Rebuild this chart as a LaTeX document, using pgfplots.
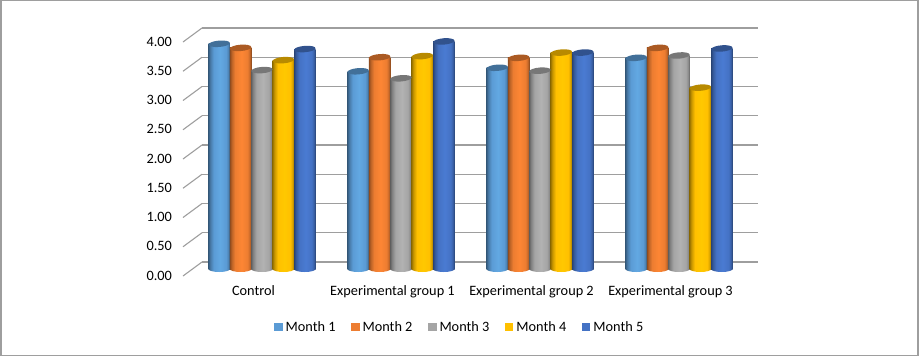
\documentclass[border=0pt]{standalone}
\usepackage{pgfplots}
\pgfplotsset{compat=1.18}
\usepackage{pgfplotstable}
\usepackage{fontspec}
\setmainfont{Carlito}
\definecolor{c1}{HTML}{5B9BD5}
\definecolor{c2}{HTML}{ED7D31}
\definecolor{c3}{HTML}{A5A5A5}
\definecolor{c4}{HTML}{FFC000}
\definecolor{c5}{HTML}{4472C4}
\definecolor{l1}{HTML}{62A8E2}
\definecolor{l2}{HTML}{FD8634}
\definecolor{l3}{HTML}{B2B2B2}
\definecolor{l4}{HTML}{FFC800}
\definecolor{l5}{HTML}{4A7BD2}
\newcommand{\mkshade}[2]{%
\pgfdeclarehorizontalshading{cyl#1}{100bp}{
color(0bp)=(#1!60!black);
color(25bp)=(#1!60!black);
color(29bp)=(#1!78!black);
color(37bp)=(#1);
color(52bp)=(#2);
color(66bp)=(#1);
color(71bp)=(#1!85!black);
color(75bp)=(#1!60!black);
color(100bp)=(#1!60!black)}%
\pgfdeclareplotmark{base#1}{\shade[draw=none,shading=cyl#1] (-10.7pt,0pt) arc[start angle=180,end angle=360,x radius=10.7pt,y radius=3pt] -- cycle;}}
\mkshade{c1}{l1}\mkshade{c2}{l2}\mkshade{c3}{l3}\mkshade{c4}{l4}\mkshade{c5}{l5}
\pgfdeclareplotmark{cyltop}{\pgfpathellipse{\pgfpointorigin}{\pgfpoint{10.7pt}{0.8pt}}{\pgfpoint{0pt}{3.2pt}}\pgfusepathqfill}
\pgfplotstableread{
x m1 m2 m3 m4 m5 z
0 3.85 3.78 3.40 3.57 3.76 0
1 3.38 3.62 3.26 3.64 3.89 0
2 3.44 3.61 3.39 3.70 3.70 0
3 3.61 3.78 3.65 3.10 3.77 0
}\datatable
\newcommand{\cyl}[3]{% series, colour, shift
  \addplot[forget plot,only marks,mark=base#2,mark options={xshift=#3pt}] table[x=x,y=z]{\datatable};
  \pgfplotsinvokeforeach{0,1,2,3}{
    \addplot[forget plot,ybar,bar width=21.4pt,bar shift=#3pt,draw=none,shade,shading=cyl#2,restrict x to domain=##1:##1] table[x=x,y=#1]{\datatable};
  }
  \addplot[forget plot,only marks,mark=cyltop,mark options={xshift=#3pt,fill=#2!72!black,draw=none},#2!72!black] table[x=x,y=#1]{\datatable};
}
\pgfplotsset{swatch/.style={legend image code/.code={\fill[#1,draw=none] (0pt,-4pt) rectangle (8.5pt,4.5pt);\path[draw=none] (0pt,0pt) -- (10pt,0pt);}}}
\begin{document}
\begin{tikzpicture}[x=1pt,y=1pt]
\path[use as bounding box] (0,0) rectangle (919,357);
\draw[draw=black!38,line width=1.2pt] (1,1.2) rectangle (918,356.5);
% back wall
\begin{axis}[at={(202pt,95pt)},anchor=south west,scale only axis,width=556pt,height=234pt,
  xmin=-0.5,xmax=3.5,ymin=0,ymax=4,clip=false,
  axis line style={draw=none},xtick=\empty,ytick={0,0.5,1,1.5,2,2.5,3,3.5,4},
  yticklabels={},major tick length=0pt,ymajorgrids,
  grid style={draw=black!38,line width=1.1pt}]
\pgfplotsinvokeforeach{0,...,8}{
  \addplot[forget plot,draw=black!38,line width=1.1pt] coordinates {(-0.6367,{-0.2393+#1*0.5}) (-0.5,{#1*0.5})};
}
\end{axis}
% front
\begin{axis}[at={(192.5pt,88pt)},anchor=south west,scale only axis,width=556pt,height=234pt,
  xmin=-0.5,xmax=3.5,ymin=0,ymax=4,clip=false,
  axis line style={draw=none},major tick length=0pt,
  xtick={0,1,2,3},xticklabels={Control,Experimental group 1,Experimental group 2,Experimental group 3},
  ytick={0,0.5,1,1.5,2,2.5,3,3.5,4},
  /pgf/number format/.cd,fixed,fixed zerofill,precision=2,assume math mode=true,/pgfplots/.cd,
  tick label style={font=\fontsize{14.3}{16}\selectfont,text=black},
  yticklabel style={anchor=east,xshift=-17pt,yshift=-6.5pt},
  xticklabel style={xshift=-8.5pt,yshift=-13pt},
  legend columns=5,
  legend style={at={(rel axis cs:0.1465,-0.248)},anchor=west,draw=none,fill=none,font=\fontsize{14.3}{16}\selectfont,
    /tikz/every even column/.append style={column sep=0pt},inner sep=0pt,nodes={inner sep=1.5pt}},
  legend cell align=left]
\addlegendimage{swatch=c1}\addlegendentry{Month 1\rule{14pt}{0pt}}
\addlegendimage{swatch=c2}\addlegendentry{Month 2\rule{14pt}{0pt}}
\addlegendimage{swatch=c3}\addlegendentry{Month 3\rule{14pt}{0pt}}
\addlegendimage{swatch=c4}\addlegendentry{Month 4\rule{14pt}{0pt}}
\addlegendimage{swatch=c5}\addlegendentry{Month 5}
\cyl{m1}{c1}{-42.8}
\cyl{m2}{c2}{-21.4}
\cyl{m3}{c3}{0}
\cyl{m4}{c4}{21.4}
\cyl{m5}{c5}{42.8}
\end{axis}
\end{tikzpicture}
\end{document}
